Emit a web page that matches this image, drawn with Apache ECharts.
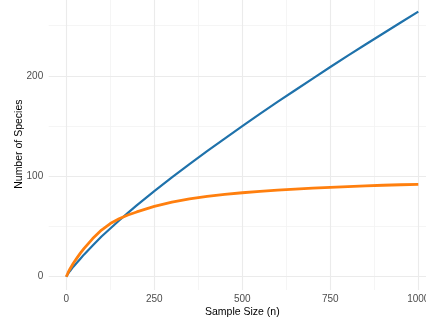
<!DOCTYPE html>
<html>
<head>
<meta charset="utf-8">
<script src="https://cdn.jsdelivr.net/npm/echarts@6/dist/echarts.min.js"></script>
<style>
html,body{margin:0;padding:0;background:#fff;overflow:hidden;width:426px;height:320px;}
#chart{position:absolute;left:0;top:-10px;width:450px;height:340px;}
</style>
</head>
<body>
<div id="chart"></div>
<script>
// Data
const sampleSize = [0, 5, 10, 20, 30, 40, 50, 75, 100, 125, 150, 175, 200, 250, 300, 350, 400, 450, 500, 550, 600, 650, 700, 750, 800, 850, 900, 950, 1000];
const blueSpecies = [0, 3, 5.5, 10, 14, 18, 22, 31, 40, 48, 56, 63.6, 71, 85.2, 99, 112.2, 125, 137.6, 150, 162.2, 174.1, 185.7, 197.3, 208.8, 220.1, 231.2, 242.2, 253.1, 264];
const orangeSpecies = [0, 4, 7.5, 13.5, 18.5, 23.5, 28, 38, 46.5, 53, 57.8, 61.5, 64.5, 70, 74.3, 77.5, 80, 82, 83.6, 85, 86.2, 87.2, 88.2, 89, 89.8, 90.5, 91.1, 91.6, 92];
const xTickLabels = [0, 250, 500, 750, 1000];
const yTickLabels = [0, 100, 200];
const xMajorGrid = [0, 250, 500, 750, 1000];
const xMinorGrid = [125, 375, 625, 875];
const yMajorGrid = [0, 100, 200];
const yMinorGrid = [50, 150, 250];

const pairs = (ys) => sampleSize.map((x, i) => [x, ys[i]]);

const chart = echarts.init(document.getElementById('chart'), null, {renderer: 'canvas'});
const FONT = "'Liberation Sans', Arial, sans-serif";

chart.setOption({
  animation: false,
  backgroundColor: '#ffffff',
  grid: {left: 48.7, top: 8.3, width: 387.2, height: 291.7, containLabel: false},
  xAxis: {
    type: 'value', min: -50, max: 1050,
    axisLine: {show: false}, axisTick: {show: false}, splitLine: {show: false},
    axisLabel: {customValues: xTickLabels, color: '#4d4d4d', fontSize: 10, fontFamily: FONT, margin: 4,
      formatter: v => String(v)},
    name: 'Sample Size (n)', nameLocation: 'middle', nameGap: 17, nameMoveOverlap: false,
    nameTextStyle: {color: '#000', fontSize: 10.5, fontFamily: FONT}
  },
  yAxis: {
    type: 'value', min: -13.2, max: 277.2,
    axisLine: {show: false}, axisTick: {show: false}, splitLine: {show: false},
    axisLabel: {customValues: yTickLabels, color: '#4d4d4d', fontSize: 10, fontFamily: FONT, margin: 5.5,
      formatter: v => String(v)},
    name: 'Number of Species', nameLocation: 'middle', nameGap: 24.5, nameMoveOverlap: false,
    nameTextStyle: {color: '#000', fontSize: 10.5, fontFamily: FONT}
  },
  series: [
    {
      type: 'line', data: [], silent: true, z: 0,
      markLine: {
        silent: true, z: 0, symbol: ['none', 'none'], label: {show: false}, animation: false,
        emphasis: {disabled: true},
        data: [
          ...xMinorGrid.map(v => ({xAxis: v, lineStyle: {color: '#f3f3f3', width: 0.8, type: 'solid'}})),
          ...yMinorGrid.map(v => ({yAxis: v, lineStyle: {color: '#f3f3f3', width: 0.8, type: 'solid'}})),
          ...xMajorGrid.map(v => ({xAxis: v, lineStyle: {color: '#ebebeb', width: 1.1, type: 'solid'}})),
          ...yMajorGrid.map(v => ({yAxis: v, lineStyle: {color: '#ebebeb', width: 1.1, type: 'solid'}}))
        ]
      }
    },
    {
      type: 'line', data: pairs(blueSpecies), showSymbol: false, smooth: false,
      lineStyle: {color: '#1f72ab', width: 2.2}, itemStyle: {color: '#1f72ab'}, z: 3
    },
    {
      type: 'line', data: pairs(orangeSpecies), showSymbol: false, smooth: false,
      lineStyle: {color: '#ff7f0e', width: 2.8}, itemStyle: {color: '#ff7f0e'}, z: 4
    }
  ]
});
</script>
</body>
</html>
